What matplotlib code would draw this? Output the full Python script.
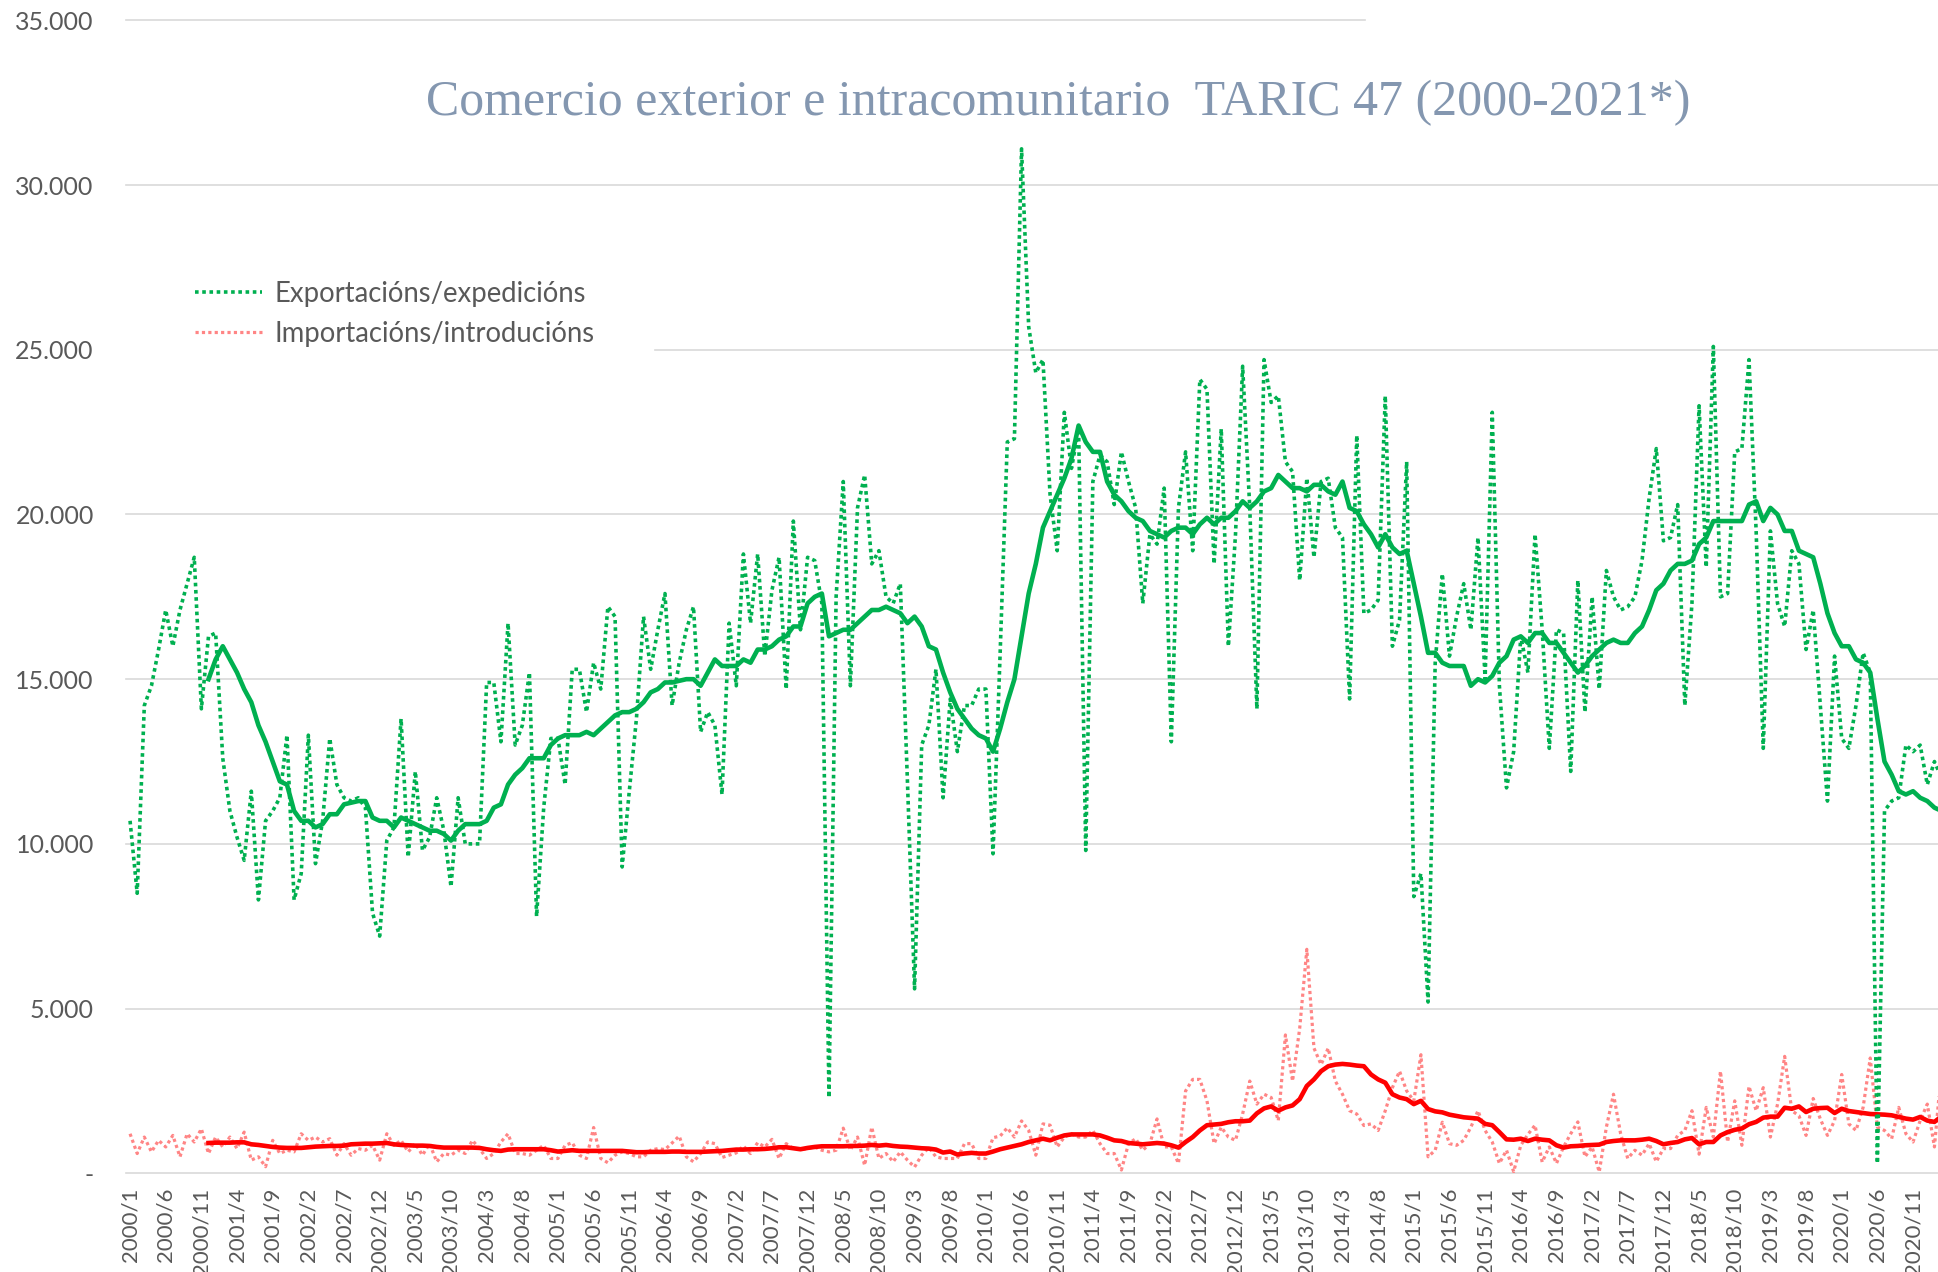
import numpy as np
import matplotlib
matplotlib.use("Agg")
import matplotlib.pyplot as plt
from matplotlib.ticker import FuncFormatter
from matplotlib.lines import Line2D

plt.rcParams['font.family'] = ['Lato', 'DejaVu Sans']

# monthly categories 2000/1 .. 2021/3
months = [f"{y}/{m}" for y in range(2000, 2022) for m in range(1, 13)][:255]

# exports / dispatches, thousands
exports = [
    10.7, 8.5, 14.2, 14.8, 15.9, 17.1, 16.0, 17.1, 17.9, 18.7, 14.1, 16.3,   # 2000
    16.4, 12.6, 11.0, 10.2, 9.5, 11.6, 8.3, 10.7, 11.0, 11.4, 13.3, 8.3,     # 2001
    9.1, 13.3, 9.4, 10.7, 13.2, 11.8, 11.4, 11.3, 11.4, 11.1, 7.9, 7.2,      # 2002
    10.1, 10.5, 13.8, 9.6, 12.2, 9.8, 10.2, 11.4, 10.4, 8.7, 11.4, 10.0,     # 2003
    10.0, 10.0, 14.9, 14.9, 13.1, 16.7, 13.0, 13.6, 15.2, 7.8, 11.1, 13.2,   # 2004
    13.2, 11.8, 15.3, 15.3, 14.0, 15.5, 14.7, 17.2, 16.9, 9.3, 11.6, 13.8,   # 2005
    16.9, 15.3, 16.5, 17.6, 14.2, 15.5, 16.5, 17.2, 13.4, 14.0, 13.6, 11.5,  # 2006
    16.7, 14.8, 18.8, 16.7, 18.8, 15.7, 17.7, 18.7, 14.7, 19.8, 16.5, 18.7,  # 2007
    18.6, 17.3, 2.3, 17.5, 21.0, 14.8, 20.2, 21.2, 18.5, 18.9, 17.5, 17.3,   # 2008
    17.9, 11.9, 5.6, 13.0, 13.6, 15.3, 11.4, 14.4, 12.8, 14.2, 14.2, 14.7,   # 2009
    14.7, 9.7, 15.8, 22.2, 22.3, 31.1, 25.7, 24.3, 24.7, 20.6, 18.9, 23.1,   # 2010
    21.4, 22.6, 9.8, 21.0, 21.8, 21.6, 20.3, 21.9, 21.0, 20.2, 17.3, 19.4,   # 2011
    19.1, 20.8, 13.1, 20.2, 21.9, 18.9, 24.1, 23.8, 18.5, 22.6, 16.0, 19.4,  # 2012
    24.5, 20.2, 14.1, 24.7, 23.4, 23.6, 21.6, 21.3, 18.0, 21.1, 18.7, 21.0,  # 2013
    21.1, 19.6, 19.3, 14.4, 22.4, 17.0, 17.1, 17.4, 23.6, 16.0, 16.8, 21.6,  # 2014
    8.4, 9.1, 5.2, 15.5, 18.2, 15.7, 16.9, 17.9, 16.5, 19.3, 15.0, 23.1,     # 2015
    14.8, 11.7, 12.8, 16.3, 15.2, 19.4, 16.5, 12.9, 16.5, 16.4, 12.2, 18.0,  # 2016
    14.0, 17.5, 14.7, 18.3, 17.5, 17.1, 17.2, 17.5, 18.6, 20.5, 22.0, 19.2,  # 2017
    19.3, 20.3, 14.2, 17.3, 23.3, 18.4, 25.1, 17.5, 17.6, 21.9, 22.0, 24.7,  # 2018
    19.5, 12.9, 19.5, 17.3, 16.6, 18.9, 18.5, 15.9, 17.1, 14.2, 11.3, 15.7,  # 2019
    13.2, 12.9, 14.2, 15.8, 15.2, 0.3, 11.0, 11.3, 11.4, 13.0, 12.8, 13.0,   # 2020
    11.8, 12.5, 12.0,                                                        # 2021
]

# imports / introductions, thousands
imports = [
    1.2, 0.6, 1.1, 0.65, 1.0, 0.8, 1.15, 0.5, 1.2, 0.95, 1.35, 0.6,          # 2000
    1.1, 0.8, 1.1, 0.75, 1.25, 0.4, 0.5, 0.2, 1.0, 0.6, 0.7, 0.65,           # 2001
    1.2, 1.0, 1.1, 0.95, 1.05, 0.55, 0.9, 0.55, 0.75, 0.7, 0.85, 0.4,        # 2002
    1.2, 0.85, 1.0, 0.65, 0.9, 0.55, 0.9, 0.35, 0.6, 0.55, 0.7, 0.6,         # 2003
    1.0, 0.75, 0.45, 0.6, 0.95, 1.2, 0.6, 0.6, 0.55, 0.7, 0.85, 0.45,        # 2004
    0.45, 0.85, 0.93, 0.55, 0.45, 1.39, 0.45, 0.32, 0.55, 0.65, 0.6, 0.5,    # 2005
    0.5, 0.7, 0.75, 0.72, 0.92, 1.13, 0.5, 0.35, 0.6, 0.95, 0.9, 0.48,       # 2006
    0.55, 0.62, 0.83, 0.6, 0.93, 0.8, 1.03, 0.45, 0.9, 0.75, 0.72, 0.75,     # 2007
    0.8, 0.7, 0.65, 0.7, 1.37, 0.7, 1.1, 0.24, 1.4, 0.45, 0.6, 0.35,         # 2008
    0.65, 0.4, 0.19, 0.55, 0.78, 0.5, 0.45, 0.45, 0.45, 0.9, 0.9, 0.45,      # 2009
    0.45, 1.08, 1.13, 1.38, 1.1, 1.59, 1.3, 0.55, 1.5, 1.46, 0.8, 1.1,       # 2010
    1.2, 1.1, 1.1, 1.3, 0.9, 0.6, 0.6, 0.1, 0.9, 1.05, 0.7, 0.9,             # 2011
    1.65, 0.8, 0.8, 0.3, 2.5, 2.85, 2.85, 2.2, 0.9, 1.4, 1.1, 1.0,           # 2012
    1.8, 2.8, 2.1, 2.4, 2.3, 1.6, 4.2, 2.8, 4.4, 6.8, 3.8, 3.3,              # 2013
    3.8, 2.8, 2.4, 1.9, 1.8, 1.45, 1.5, 1.3, 1.9, 2.6, 3.1, 2.5,             # 2014
    2.2, 3.6, 0.5, 0.7, 1.55, 0.9, 0.85, 1.0, 1.4, 1.9, 1.3, 0.95,           # 2015
    0.3, 0.7, 0.05, 0.85, 1.18, 1.46, 0.34, 0.8, 0.3, 0.8, 1.2, 1.56,        # 2016
    0.5, 0.8, 0.04, 1.4, 2.4, 1.2, 0.45, 0.7, 0.55, 0.9, 0.35, 0.75,         # 2017
    0.75, 1.15, 1.3, 1.9, 0.58, 2.0, 1.1, 3.1, 0.95, 2.2, 0.85, 2.64,        # 2018
    1.9, 2.6, 1.1, 2.1, 3.55, 1.9, 1.75, 1.15, 2.27, 1.65, 1.15, 1.6,        # 2019
    3.0, 1.5, 1.3, 2.0, 3.5, 1.4, 1.3, 1.05, 2.0, 1.2, 0.95, 1.6,            # 2020
    2.1, 0.8, 3.2,                                                           # 2021
]

# 12-month moving averages, thousands, starting at 2000/12
MA_START = 11
exports_ma = [
    15.0,                                                                    # 2000/12
    15.6, 16.0, 15.6, 15.2, 14.7, 14.3, 13.6, 13.1, 12.5, 11.9, 11.8, 11.0,  # 2001
    10.7, 10.7, 10.5, 10.6, 10.9, 10.9, 11.2, 11.25, 11.3, 11.3, 10.8, 10.7, # 2002
    10.7, 10.5, 10.8, 10.7, 10.6, 10.5, 10.4, 10.4, 10.3, 10.1, 10.4, 10.6,  # 2003
    10.6, 10.6, 10.7, 11.1, 11.2, 11.8, 12.1, 12.3, 12.6, 12.6, 12.6, 13.0,  # 2004
    13.2, 13.3, 13.3, 13.3, 13.4, 13.3, 13.5, 13.7, 13.9, 14.0, 14.0, 14.1,  # 2005
    14.3, 14.6, 14.7, 14.9, 14.9, 14.95, 15.0, 15.0, 14.8, 15.2, 15.6, 15.4, # 2006
    15.4, 15.4, 15.6, 15.5, 15.9, 15.9, 16.0, 16.2, 16.3, 16.6, 16.6, 17.3,  # 2007
    17.5, 17.6, 16.3, 16.4, 16.5, 16.5, 16.7, 16.9, 17.1, 17.1, 17.2, 17.1,  # 2008
    17.0, 16.7, 16.9, 16.6, 16.0, 15.9, 15.2, 14.6, 14.1, 13.8, 13.5, 13.3,  # 2009
    13.2, 12.8, 13.5, 14.3, 15.0, 16.3, 17.6, 18.5, 19.6, 20.1, 20.6, 21.1,  # 2010
    21.7, 22.7, 22.2, 21.9, 21.9, 21.0, 20.6, 20.4, 20.1, 19.9, 19.8, 19.5,  # 2011
    19.4, 19.3, 19.5, 19.6, 19.6, 19.4, 19.7, 19.9, 19.7, 19.9, 19.9, 20.1,  # 2012
    20.4, 20.2, 20.4, 20.7, 20.8, 21.2, 21.0, 20.8, 20.8, 20.7, 20.9, 20.9,  # 2013
    20.7, 20.6, 21.0, 20.2, 20.1, 19.7, 19.4, 19.0, 19.4, 19.0, 18.8, 18.9,  # 2014
    17.9, 16.9, 15.8, 15.8, 15.5, 15.4, 15.4, 15.4, 14.8, 15.0, 14.9, 15.1,  # 2015
    15.5, 15.7, 16.2, 16.3, 16.1, 16.4, 16.4, 16.1, 16.1, 15.8, 15.5, 15.2,  # 2016
    15.4, 15.7, 15.9, 16.1, 16.2, 16.1, 16.1, 16.4, 16.6, 17.1, 17.7, 17.9,  # 2017
    18.3, 18.5, 18.5, 18.6, 19.1, 19.3, 19.8, 19.8, 19.8, 19.8, 19.8, 20.3,  # 2018
    20.4, 19.8, 20.2, 20.0, 19.5, 19.5, 18.9, 18.8, 18.7, 17.9, 17.0, 16.4,  # 2019
    16.0, 16.0, 15.6, 15.5, 15.2, 13.8, 12.5, 12.1, 11.6, 11.5, 11.6, 11.4,  # 2020
    11.3, 11.1, 11.0,                                                        # 2021
]
imports_ma = [
    0.92,                                                                    # 2000/12
    0.93, 0.93, 0.93, 0.94, 0.94, 0.88, 0.86, 0.83, 0.80, 0.78, 0.77, 0.77,  # 2001
    0.77, 0.79, 0.81, 0.82, 0.83, 0.83, 0.84, 0.88, 0.89, 0.90, 0.90, 0.91,  # 2002
    0.92, 0.88, 0.86, 0.85, 0.84, 0.84, 0.83, 0.80, 0.78, 0.78, 0.78, 0.78,  # 2003
    0.78, 0.77, 0.73, 0.70, 0.68, 0.72, 0.73, 0.73, 0.73, 0.73, 0.73, 0.70,  # 2004
    0.66, 0.68, 0.70, 0.68, 0.68, 0.68, 0.68, 0.68, 0.68, 0.68, 0.66, 0.64,  # 2005
    0.64, 0.65, 0.65, 0.65, 0.66, 0.66, 0.65, 0.65, 0.65, 0.66, 0.67, 0.68,  # 2006
    0.70, 0.72, 0.72, 0.73, 0.73, 0.74, 0.76, 0.79, 0.79, 0.76, 0.73, 0.77,  # 2007
    0.80, 0.82, 0.82, 0.82, 0.82, 0.83, 0.83, 0.84, 0.86, 0.84, 0.86, 0.83,  # 2008
    0.81, 0.80, 0.78, 0.76, 0.75, 0.72, 0.63, 0.66, 0.57, 0.60, 0.62, 0.60,  # 2009
    0.60, 0.66, 0.73, 0.78, 0.83, 0.88, 0.95, 1.00, 1.05, 1.00, 1.08, 1.15,  # 2010
    1.18, 1.18, 1.18, 1.18, 1.15, 1.08, 1.00, 0.98, 0.92, 0.90, 0.88, 0.90,  # 2011
    0.92, 0.90, 0.85, 0.78, 0.95, 1.10, 1.30, 1.46, 1.48, 1.50, 1.55, 1.58,  # 2012
    1.58, 1.60, 1.82, 1.97, 2.03, 1.90, 2.00, 2.06, 2.25, 2.65, 2.85, 3.10,  # 2013
    3.25, 3.30, 3.32, 3.30, 3.27, 3.25, 3.00, 2.85, 2.75, 2.40, 2.30, 2.25,  # 2014
    2.10, 2.20, 1.95, 1.88, 1.85, 1.78, 1.74, 1.70, 1.68, 1.66, 1.50, 1.46,  # 2015
    1.25, 1.03, 1.02, 1.05, 0.98, 1.05, 1.02, 1.00, 0.85, 0.78, 0.82, 0.83,  # 2016
    0.85, 0.86, 0.87, 0.95, 0.98, 1.00, 1.00, 1.00, 1.02, 1.05, 0.98, 0.88,  # 2017
    0.92, 0.95, 1.03, 1.07, 0.88, 0.95, 0.95, 1.15, 1.25, 1.32, 1.36, 1.49,  # 2018
    1.56, 1.69, 1.72, 1.72, 1.99, 1.96, 2.03, 1.86, 1.96, 1.98, 1.99, 1.83,  # 2019
    1.96, 1.89, 1.86, 1.83, 1.80, 1.79, 1.78, 1.76, 1.71, 1.66, 1.63, 1.71,  # 2020
    1.60, 1.56, 1.73,                                                        # 2021
]

labels = ['Exportacións/expedicións', 'Importacións/introducións']
title = 'Comercio exterior e intracomunitario  TARIC 47 (2000-2021*)'
yticks = [0, 5000, 10000, 15000, 20000, 25000, 30000, 35000]

GREEN = '#00B050'
PINK = '#FF8585'
RED = '#FF0000'
GREY_TXT = '#595959'
GRID = '#D9D9D9'
DOT = (0, (1, 1))

fig = plt.figure(figsize=(19.38, 12.72), dpi=100)
ax = fig.add_axes([0.0649, 0.0776, 0.9351, 0.9064])

x = np.arange(len(months))
ax.plot(x, np.array(imports) * 1000, color=PINK, lw=2.3, ls=DOT, zorder=2)
ax.plot(x[MA_START:], np.array(imports_ma) * 1000, color=RED, lw=3.3, zorder=3,
        solid_joinstyle='round')
ax.plot(x, np.array(exports) * 1000, color=GREEN, lw=2.6, ls=DOT, zorder=4)
ax.plot(x[MA_START:], np.array(exports_ma) * 1000, color=GREEN, lw=3.3, zorder=5,
        solid_joinstyle='round')

ax.set_xlim(-0.6, 253.5)
ax.set_ylim(0, 35000)

# gridlines (the top one and the 25.000 one are partly hidden in the original)
for v in yticks:
    xmin, xmax = 0, 1
    if v == 35000:
        xmax = 0.684
    if v == 25000:
        xmin = 0.292
    ax.axhline(v, xmin=xmin, xmax=xmax, color=GRID, lw=1.2, zorder=1, clip_on=False)

for s in ax.spines.values():
    s.set_visible(False)

ax.set_yticks(yticks)
ax.yaxis.set_major_formatter(FuncFormatter(
    lambda v, p: '-' if v == 0 else f"{v:,.0f}".replace(',', '.')))
ax.set_xticks(x[::5])
ax.set_xticklabels(months[::5], rotation=90)
ax.tick_params(axis='x', length=0, pad=10.5, labelsize=16, labelcolor=GREY_TXT)
ax.tick_params(axis='y', length=0, pad=23, labelsize=18, labelcolor=GREY_TXT)

fig.text(0.546, 0.919, title, fontsize=36, family='Liberation Serif',
         color='#8497B0', ha='center', va='center')

handles = [Line2D([], [], color=GREEN, lw=2.6, ls=DOT),
           Line2D([], [], color=PINK, lw=2.3, ls=DOT)]
leg = fig.legend(handles, labels, loc='upper left', bbox_to_anchor=(0.1006, 0.779),
                 frameon=False, fontsize=19.8, handlelength=2.44, handletextpad=0.44,
                 labelspacing=0.5, borderpad=0, borderaxespad=0)
for t in leg.get_texts():
    t.set_color(GREY_TXT)

fig.savefig('out.png', dpi=100)
